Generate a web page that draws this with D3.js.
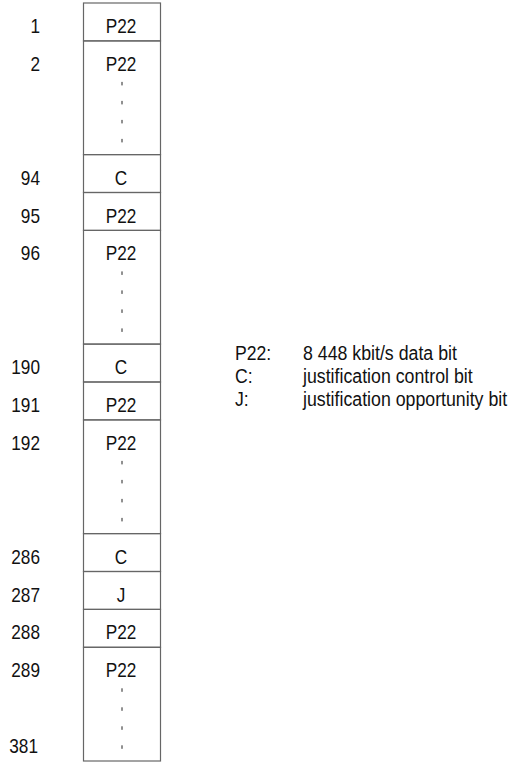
<!DOCTYPE html>
<html>
<head>
<meta charset="utf-8">
<script src="https://cdn.jsdelivr.net/npm/d3@7"></script>
<style>
  body { margin: 0; background: #fff; }
  text { font-family: "Liberation Sans", Arial, sans-serif; fill: #111; }
</style>
</head>
<body>
<script>
// bit positions shown at the left of each cell
const bitNumbers = [1, 2, 94, 95, 96, 190, 191, 192, 286, 287, 288, 289];
// what the cell holds
const cellLabels = ['P22', 'P22', 'C', 'P22', 'P22', 'C', 'P22', 'P22', 'C', 'J', 'P22', 'P22'];
// how many row units each cell takes (3 = run of bits with dots)
const cellSpans = [1, 3, 1, 1, 3, 1, 1, 3, 1, 1, 1, 3];
// last bit number, written at the bottom of the last run
const lastBit = 381;
// legend
const legendKeys = ['P22:', 'C:', 'J:'];
const legendTexts = ['8 448 kbit/s data bit', 'justification control bit', 'justification opportunity bit'];

const width = 509, height = 764;
const svg = d3.select('body').append('svg')
  .attr('width', width)
  .attr('height', height);

// build the cells: start unit, span
let unit = 0;
const cells = bitNumbers.map((n, i) => {
  const c = {num: n, label: cellLabels[i], start: unit, span: cellSpans[i]};
  unit += cellSpans[i];
  return c;
});
const totalUnits = unit;

const y = d3.scaleLinear().domain([0, totalUnits]).range([3, 761]);
const x = d3.scaleLinear().domain([0, 1]).range([83.5, 160.5]);
const numX = 40;
const fontSize = 21;
const baseOff = 30; // baseline below the top of a unit

// condensed text: no narrow font installed, so squeeze it
function ntext(sel, tx, ty, anchor, str, sx = 0.82) {
  return sel.append('text')
    .attr('transform', `translate(${tx},${ty}) scale(${sx},1)`)
    .attr('text-anchor', anchor)
    .attr('font-size', fontSize)
    .text(str);
}

const g = svg.append('g');

// cells
g.selectAll('rect.cell')
  .data(cells)
  .join('rect')
  .attr('class', 'cell')
  .attr('x', x(0))
  .attr('y', d => y(d.start))
  .attr('width', x(1) - x(0))
  .attr('height', d => y(d.start + d.span) - y(d.start))
  .attr('fill', 'none')
  .attr('stroke', '#666')
  .attr('stroke-width', 1.2);

cells.forEach(d => {
  ntext(g, x(0.5) - 1, y(d.start) + baseOff, 'middle', d.label);
  ntext(g, numX, y(d.start) + baseOff, 'end', d.num);
});
ntext(g, numX - 2, y(totalUnits - 1) + baseOff, 'end', lastBit);

// dotted runs
cells.filter(d => d.span > 1).forEach(d => {
  const top = y(d.start);
  for (let k = 0; k < 4; k++) {
    const yy = top + 41 + k * 19;
    g.append('line')
      .attr('x1', x(0.5)).attr('x2', x(0.5))
      .attr('y1', yy).attr('y2', yy + 3.5)
      .attr('stroke', '#222')
      .attr('stroke-width', 1);
  }
});

// legend
const legend = svg.append('g');
legendKeys.forEach((k, i) => {
  ntext(legend, 235, 360 + i * 23, 'start', k, 0.84);
  ntext(legend, 303, 360 + i * 23, 'start', legendTexts[i], 0.845);
});
</script>
</body>
</html>
